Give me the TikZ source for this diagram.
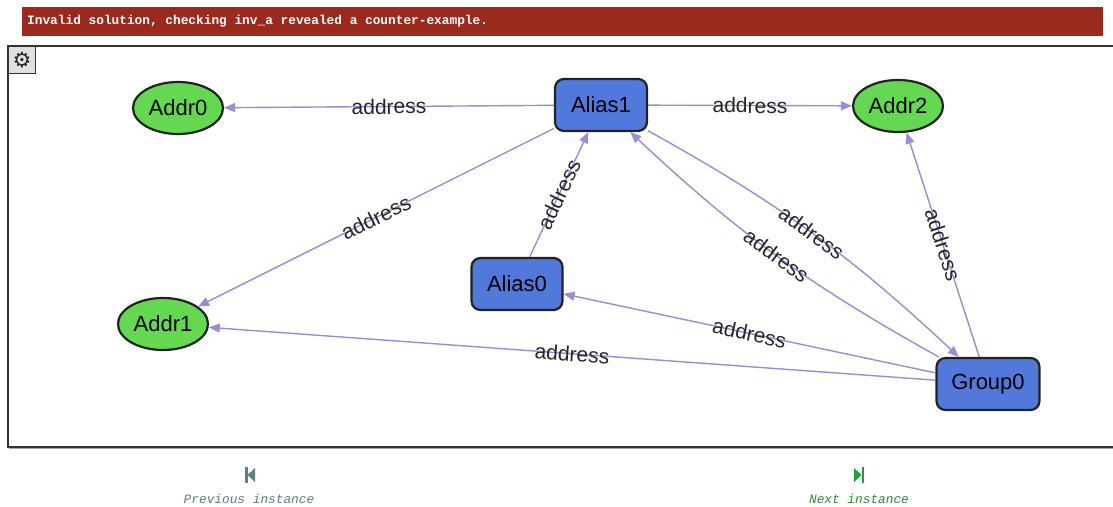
\documentclass[tikz,border=0pt]{standalone}
\usepackage{fontspec}
\setmainfont{Liberation Sans}
\newfontfamily\monofont{Liberation Mono}
\newfontfamily\symfont{DejaVu Sans}
\usetikzlibrary{shapes.geometric,arrows.meta,calc}

\definecolor{bannerred}{HTML}{9B2A1E}
\definecolor{aliasblue}{HTML}{5079DB}
\definecolor{addrgreen}{HTML}{64D850}
\definecolor{nodeborder}{HTML}{222222}
\definecolor{edgecol}{HTML}{9A8CD6}
\definecolor{labelcol}{HTML}{262626}
\definecolor{framecol}{HTML}{333333}
\definecolor{gearbg}{HTML}{E0E0E0}
\definecolor{prevcol}{HTML}{5E8080}
\definecolor{nextcol}{HTML}{2F8A3A}
\definecolor{nexticon}{HTML}{1E9E3E}

\tikzset{
  alias/.style={draw=nodeborder, line width=2.2pt, fill=aliasblue, rounded corners=9pt,
    minimum height=52pt, inner sep=0pt, text=black, font=\fontsize{22}{22}\selectfont},
  addr/.style={draw=nodeborder, line width=2.2pt, fill=addrgreen, ellipse,
    minimum width=90pt, minimum height=52pt, inner sep=0pt, text=black, font=\fontsize{22}{22}\selectfont},
  edge/.style={draw=edgecol, line width=1.4pt, -{Triangle[length=11pt,width=9pt]}},
  lbl/.style={midway, sloped, inner sep=0pt, text=labelcol, font=\fontsize{21}{21}\selectfont},
  navtext/.style={font=\monofont\itshape\fontsize{12.8}{13}\selectfont},
}

\begin{document}
\begin{tikzpicture}[x=1pt,y=-1pt]
\useasboundingbox (0,0) rectangle (1113,506);
\fill[white] (0,0) rectangle (1113,506);

% error banner
\node[fill=bannerred, minimum width=1081pt, minimum height=29pt, inner sep=0pt,
      anchor=north west] (banner) at (22,7) {};
\node[anchor=west, text=white, inner sep=0pt,
      font=\monofont\bfseries\fontsize{12.8}{13}\selectfont] (msg) at (27,21)
  {Invalid solution, checking inv\_a revealed a counter-example.};

% graph frame
\draw[framecol, line width=1.2pt] (1113,46) -- (8,46) -- (8,447) -- (1113,447);
\draw[gray!70, line width=0.8pt] (9,448.3) -- (1113,448.3);

% settings button
\node[draw=framecol, fill=gearbg, line width=1pt, minimum width=27pt, minimum height=27pt,
      inner sep=0pt, anchor=north west] (gear) at (8,46) {};
\node[text=black!85, font=\symfont\bfseries\fontsize{21}{21}\selectfont, inner sep=0pt] (gearsym) at (gear.center) {⚙};

% nodes
\node[addr] (ad0) at (178,108) {Addr0};
\node[addr] (ad1) at (163,324) {Addr1};
\node[addr] (ad2) at (898,106) {Addr2};
\node[alias, minimum width=92pt] (a1) at (601,105) {Alias1};
\node[alias, minimum width=91pt] (a0) at (517,284) {Alias0};
\node[alias, minimum width=103pt] (g0) at (988,384) {Group0};

% relations
\draw[edge] (a1) -- node[lbl]{address} (ad0);
\draw[edge] (a1) -- node[lbl]{address} (ad2);
\draw[edge] (a1) -- node[lbl]{address} (ad1);
\draw[edge] (a0) -- node[lbl]{address} (a1);
\draw[edge] (g0) -- node[lbl]{address} (a0);
\draw[edge] (g0) -- node[lbl]{address} (ad1);
\draw[edge] (a1) to[bend left=7] node[lbl]{address} (g0);
\draw[edge] (g0) to[bend left=7] node[lbl]{address} (a1);
\draw[edge] (g0) -- node[lbl]{address} (ad2);

% navigation
\coordinate (pv) at (250,475);
\fill[prevcol] ($(pv)+(-5,-8)$) rectangle ($(pv)+(-2.5,8)$);
\fill[prevcol] ($(pv)+(-2.5,0)$) -- ($(pv)+(5,-7)$) -- ($(pv)+(5,7)$) -- cycle;
\node[navtext, text=prevcol] (prev) at (249,499) {Previous instance};

\coordinate (nx) at (859,475);
\fill[nexticon] ($(nx)+(2.5,-8)$) rectangle ($(nx)+(5,8)$);
\fill[nexticon] ($(nx)+(2.5,0)$) -- ($(nx)+(-5,-7)$) -- ($(nx)+(-5,7)$) -- cycle;
\node[navtext, text=nextcol] (next) at (859,499) {Next instance};
\end{tikzpicture}
\end{document}
